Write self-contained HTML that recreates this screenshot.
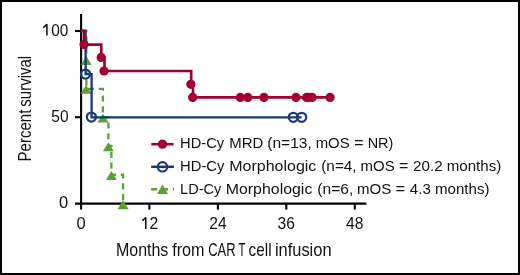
<!DOCTYPE html>
<html><head><meta charset="utf-8">
<style>
html,body{margin:0;padding:0;background:#fff;}
body{width:520px;height:275px;overflow:hidden;position:relative;}
.frame{position:absolute;left:0;top:0;width:520px;height:275px;box-sizing:border-box;border:2px solid #000;background:#fff;}
svg{position:absolute;left:0;top:0;will-change:transform;}
text{font-family:"Liberation Sans",sans-serif;fill:#111;}
</style></head>
<body>
<div class="frame"></div>
<svg width="520" height="275" viewBox="0 0 520 275">
  <!-- axis labels -->
  <g transform="rotate(-90 30.7 161.4)" font-size="18"><text x="30.7" y="161.4" textLength="51.8" lengthAdjust="spacingAndGlyphs">Percent</text><text x="85.4" y="161.4" textLength="50.9" lengthAdjust="spacingAndGlyphs">survival</text></g>
  <g font-size="18.5"><text x="116.01" y="255.7" textLength="52.36" lengthAdjust="spacingAndGlyphs">Months</text><text x="172.23" y="255.7" textLength="32.33" lengthAdjust="spacingAndGlyphs">from</text><text x="208.17" y="255.7" textLength="27.36" lengthAdjust="spacingAndGlyphs">CAR</text><text x="238.56" y="255.7" textLength="6.89" lengthAdjust="spacingAndGlyphs">T</text><text x="248.62" y="255.7" textLength="22.98" lengthAdjust="spacingAndGlyphs">cell</text><text x="274.93" y="255.7" textLength="56.62" lengthAdjust="spacingAndGlyphs">infusion</text></g>
  <!-- y tick labels -->
  <g font-size="16.5" text-anchor="end">
    <text x="68.3" y="35.6" textLength="17.07" lengthAdjust="spacingAndGlyphs">00</text>
    <text x="68.5" y="121.6" textLength="17.2" lengthAdjust="spacingAndGlyphs">50</text>
    <text x="68.3" y="208.4">0</text>
  </g>
  <g font-size="16.5" text-anchor="middle">
    <text x="81" y="229.1">0</text>
    <text x="149.5" y="229.1" textLength="8.7" lengthAdjust="spacingAndGlyphs" text-anchor="start">2</text>
    <text x="218" y="229.1" textLength="17.4" lengthAdjust="spacingAndGlyphs">24</text>
    <text x="286.3" y="229.1" textLength="17.4" lengthAdjust="spacingAndGlyphs">36</text>
    <text x="354.8" y="229.1" textLength="17.4" lengthAdjust="spacingAndGlyphs">48</text>
  </g>
  <path d="M43.3,27.6 L46.9,24.35 V35.6 M142.35,220.6 L145.75,217.65 V228.9" fill="none" stroke="#111" stroke-width="1.55" stroke-linejoin="bevel"/>
  <!-- axes -->
  <g stroke="#000" stroke-width="2.1" fill="none">
    <line x1="81.1" y1="14" x2="81.1" y2="209.6"/>
    <line x1="75" y1="203.6" x2="366.4" y2="203.6"/>
    <line x1="75" y1="31" x2="81" y2="31"/>
    <line x1="75" y1="117.2" x2="81" y2="117.2"/>
    <line x1="149.4" y1="203.6" x2="149.4" y2="209.6"/>
    <line x1="217.9" y1="203.6" x2="217.9" y2="209.6"/>
    <line x1="286.3" y1="203.6" x2="286.3" y2="209.6"/>
    <line x1="354.8" y1="203.6" x2="354.8" y2="209.6"/>
  </g>
  <!-- green curve -->
  <g>
    <path d="M81,31 H86.4 V88.9 H102.9 V117.25 H108.4 V146 H111.4 V174.75 H123.1 V203.7" fill="none" stroke="#5CA233" stroke-width="2.3" stroke-dasharray="6.1 4.7"/>
    <g fill="#5CA233">
      <polygon points="86.2,56.10 91.7,65.10 80.7,65.10"/>
      <polygon points="86.0,84.85 91.5,93.85 80.5,93.85"/>
      <polygon points="102.9,113.60 108.4,122.60 97.4,122.60"/>
      <polygon points="108.4,142.35 113.9,151.35 102.9,151.35"/>
      <polygon points="111.4,171.10 116.9,180.10 105.9,180.10"/>
      <polygon points="123.0,200.3 128.6,209.3 117.4,209.3"/>
    </g>
  </g>
  <!-- blue curve -->
  <g stroke="#193A74" stroke-width="2.3" fill="none">
    <path d="M81,31 H85.6 V74.1 H91.6 V117.3 H301.7"/>
    <circle cx="85.5" cy="74.1" r="4.5"/>
    <circle cx="91.4" cy="117.1" r="4.5"/>
    <circle cx="293.3" cy="117.3" r="4.5"/>
    <circle cx="301.7" cy="117.3" r="4.5"/>
  </g>
  <!-- red curve -->
  <g>
    <path d="M81,30.7 H84 V44.6 H101.3 V57.5 H104.5 V71 H191.2 V84.3 H193 V97.4 H330.1" fill="none" stroke="#A10030" stroke-width="2.6"/>
    <g fill="#A10030">
      <circle cx="84" cy="44.6" r="4.6"/>
      <circle cx="101.2" cy="57.4" r="4.6"/>
      <circle cx="104" cy="71" r="4.6"/>
      <circle cx="190.9" cy="84.3" r="4.6"/>
      <circle cx="192.7" cy="97.4" r="4.6"/>
      <circle cx="240.3" cy="97.4" r="4.6"/>
      <circle cx="247.8" cy="97.4" r="4.6"/>
      <circle cx="264" cy="97.4" r="4.6"/>
      <circle cx="296" cy="97.4" r="4.6"/>
      <circle cx="306.6" cy="97.4" r="4.6"/>
      <circle cx="309.3" cy="97.4" r="4.6"/>
      <circle cx="312.1" cy="97.4" r="4.6"/>
      <circle cx="330.1" cy="97.4" r="4.6"/>
    </g>
  </g>
  <!-- legend -->
  <line x1="151.3" y1="144.2" x2="173.6" y2="144.2" stroke="#A10030" stroke-width="2.6"/>
  <circle cx="162.5" cy="144.2" r="4.65" fill="#A10030"/>
  <line x1="151.2" y1="166.8" x2="173.9" y2="166.8" stroke="#193A74" stroke-width="2.5"/>
  <circle cx="162.5" cy="166.8" r="4.7" fill="none" stroke="#193A74" stroke-width="2.2"/>
  <line x1="151.1" y1="189.2" x2="174" y2="189.2" stroke="#5CA233" stroke-width="2.5" stroke-dasharray="6.1 4.7"/>
  <polygon points="162.5,184.6 168,194 157,194" fill="#5CA233"/>
  <g font-size="14.5">
    <text x="180.05" y="148.4" textLength="44.05" lengthAdjust="spacingAndGlyphs">HD-Cy</text>
    <text x="229.23" y="148.4" textLength="33.98" lengthAdjust="spacingAndGlyphs">MRD</text>
    <text x="267.27" y="148.4" textLength="44.59" lengthAdjust="spacingAndGlyphs">(n=13,</text>
    <text x="315.67" y="148.4" textLength="33.96" lengthAdjust="spacingAndGlyphs">mOS</text>
    <text x="354.25" y="148.4" textLength="9.34" lengthAdjust="spacingAndGlyphs">=</text>
    <text x="367.67" y="148.4" textLength="25.68" lengthAdjust="spacingAndGlyphs">NR)</text>
    <text x="180.04" y="171.4" textLength="44.36" lengthAdjust="spacingAndGlyphs">HD-Cy</text>
    <text x="229.25" y="171.4" textLength="87.10" lengthAdjust="spacingAndGlyphs">Morphologic</text>
    <text x="321.28" y="171.4" textLength="35.36" lengthAdjust="spacingAndGlyphs">(n=4,</text>
    <text x="360.57" y="171.4" textLength="34.06" lengthAdjust="spacingAndGlyphs">mOS</text>
    <text x="399.05" y="171.4" textLength="9.34" lengthAdjust="spacingAndGlyphs">=</text>
    <text x="413.09" y="171.4" textLength="29.53" lengthAdjust="spacingAndGlyphs">20.2</text>
    <text x="446.76" y="171.4" textLength="54.52" lengthAdjust="spacingAndGlyphs">months)</text>
    <text x="180.06" y="193.6" textLength="41.24" lengthAdjust="spacingAndGlyphs">LD-Cy</text>
    <text x="225.76" y="193.6" textLength="86.59" lengthAdjust="spacingAndGlyphs">Morphologic</text>
    <text x="317.27" y="193.6" textLength="36.00" lengthAdjust="spacingAndGlyphs">(n=6,</text>
    <text x="357.06" y="193.6" textLength="34.27" lengthAdjust="spacingAndGlyphs">mOS</text>
    <text x="395.62" y="193.6" textLength="9.69" lengthAdjust="spacingAndGlyphs">=</text>
    <text x="409.86" y="193.6" textLength="20.95" lengthAdjust="spacingAndGlyphs">4.3</text>
    <text x="435.06" y="193.6" textLength="54.42" lengthAdjust="spacingAndGlyphs">months)</text>
  </g>
</svg>
</body></html>
